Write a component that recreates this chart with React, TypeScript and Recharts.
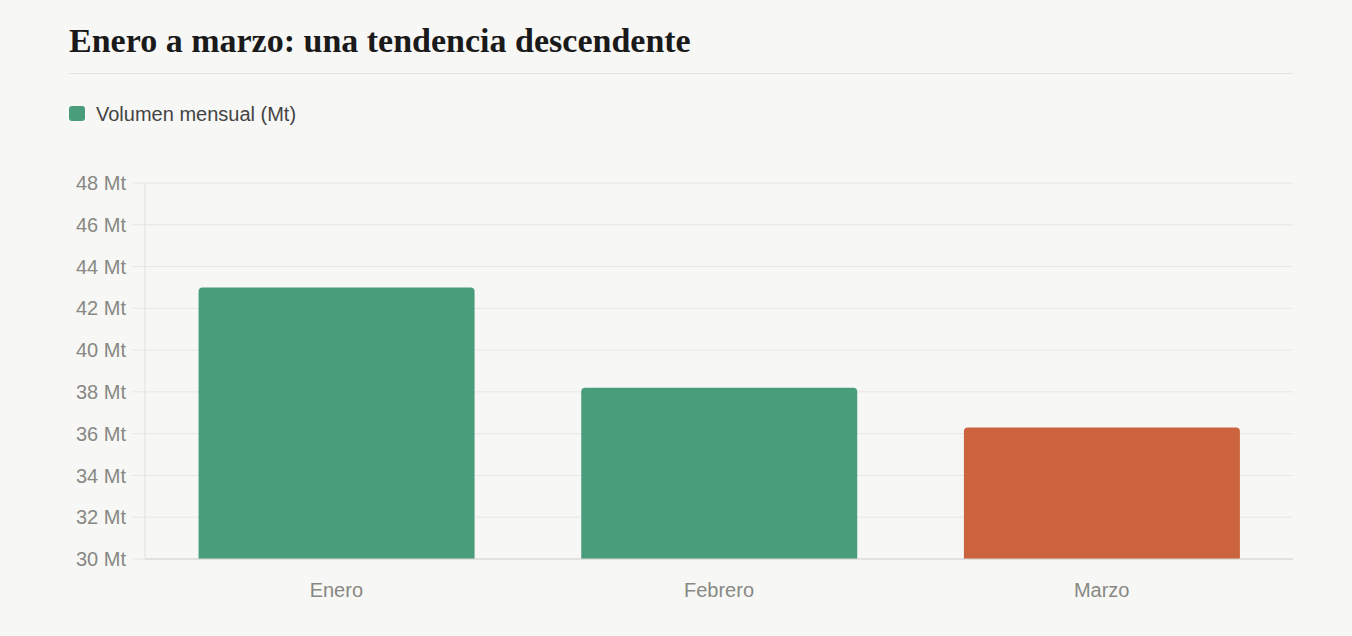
import React from "react";
import { BarChart, Bar, XAxis, YAxis, CartesianGrid, Cell } from "recharts";

const months = ["Enero", "Febrero", "Marzo"];
const volumes = [43.0, 38.2, 36.3];
const barColors = ["#4a9d7a", "#4a9d7a", "#ca633e"];
const yTicks = [30, 32, 34, 36, 38, 40, 42, 44, 46, 48];
const title = "Enero a marzo: una tendencia descendente";
const seriesName = "Volumen mensual (Mt)";

const data = months.map((m, i) => ({ month: m, value: volumes[i] }));

const SANS = "'Liberation Sans', Arial, Helvetica, sans-serif";

export default function App() {
  return (
    <div
      style={{
        position: "fixed",
        left: 0,
        top: 0,
        width: 1352,
        height: 636,
        background: "#f7f7f5",
        overflow: "hidden",
      }}
    >
      <div
        style={{
          position: "absolute",
          left: 69,
          top: 24,
          fontFamily: "'Liberation Serif', 'Times New Roman', serif",
          fontWeight: 700,
          fontSize: 34,
          lineHeight: 1,
          color: "#1a1a1a",
          whiteSpace: "nowrap",
        }}
      >
        {title}
      </div>
      <div
        style={{
          position: "absolute",
          left: 69,
          top: 73,
          width: 1224,
          height: 1,
          background: "#e3e3e0",
        }}
      />
      <div
        style={{
          position: "absolute",
          left: 69,
          top: 106,
          width: 16,
          height: 15,
          borderRadius: 3,
          background: barColors[0],
        }}
      />
      <div
        style={{
          position: "absolute",
          left: 96,
          top: 103,
          fontFamily: SANS,
          fontSize: 20,
          lineHeight: "23px",
          color: "#444",
          whiteSpace: "nowrap",
        }}
      >
        {seriesName}
      </div>
      <div style={{ position: "absolute", left: 0, top: 0 }}>
        <BarChart
          width={1352}
          height={636}
          data={data}
          margin={{ top: 183, right: 59, bottom: 37, left: 0 }}
          barCategoryGap="14%"
          style={{ fontFamily: SANS }}
        >
          <CartesianGrid vertical={false} stroke="#e6e6e3" strokeWidth={1} />
          <XAxis
            dataKey="month"
            height={40}
            tickLine={false}
            tickSize={0}
            tickMargin={24}
            axisLine={{ stroke: "#d4d4d0" }}
            tick={{ fill: "#888884", fontSize: 20 }}
          />
          <YAxis
            width={145}
            domain={[30, 48]}
            ticks={yTicks}
            interval={0}
            tickFormatter={(v) => `${v} Mt`}
            tickSize={13}
            tickMargin={6}
            tickLine={{ stroke: "#e6e6e3" }}
            axisLine={{ stroke: "#e0e0dd" }}
            tick={{ fill: "#888884", fontSize: 20 }}
          />
          <Bar dataKey="value" radius={[4, 4, 0, 0]} isAnimationActive={false}>
            {data.map((d, i) => (
              <Cell key={d.month} fill={barColors[i]} />
            ))}
          </Bar>
        </BarChart>
      </div>
    </div>
  );
}
